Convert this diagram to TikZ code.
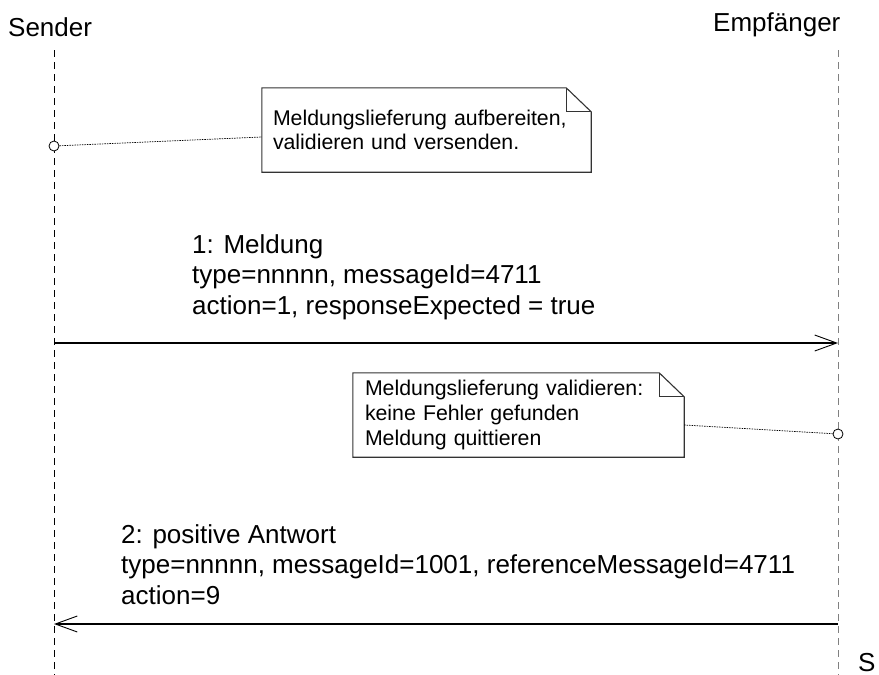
\documentclass[tikz,border=0pt]{standalone}
\usepackage{fontspec}
\setmainfont{Liberation Sans}
\usetikzlibrary{arrows.meta}

\begin{document}
\begin{tikzpicture}[x=1pt, y=-1pt]
        \tikzstyle{actor}=[inner sep=0pt, anchor=base west,
            font=\fontsize{26}{31}\selectfont]
        \tikzstyle{msg}=[inner sep=0pt, anchor=base west, align=left,
            font=\fontsize{26}{30.5}\selectfont]
        \tikzstyle{notebox}=[inner ysep=0pt, align=left,
            minimum height=84pt]
        \tikzstyle{noteline}=[draw=black!80, line width=1.1pt]
        \tikzstyle{life}=[dash pattern=on 7pt off 5pt, line width=0.8pt]
        \tikzstyle{anchorpt}=[draw, circle, fill=white,
            minimum size=10pt, inner sep=0pt, line width=0.8pt]
        \tikzstyle{link}=[dash pattern=on 1.5pt off 1pt, line width=0.7pt]
        \tikzstyle{call}=[line width=1.1pt,
            -{Straight Barb[length=22pt, width=16pt, line width=0.9pt]}]

        \useasboundingbox (0,0) rectangle (879,675);

        % lifelines
        \node[actor] (sender) at (8,36) {Sender};
        \node[actor] (receiver) at (713,31) {Empf\"anger};
        \coordinate (s0) at (54,50);
        \coordinate (s9) at (54,675);
        \coordinate (e0) at (838,50);
        \coordinate (e9) at (838,675);
        \draw[life, black] (s0) to (s9);
        \draw[life, black!50] (e0) to (e9);

        % first note
        \node[notebox, text width=307pt, inner xsep=11pt,
            font=\fontsize{21.3}{24}\selectfont] (note1) at (426.5,130)
            {Meldungslieferung aufbereiten,\\validieren und versenden.};
        \draw[noteline] (note1.north west) -- ([xshift=-25pt]note1.north east)
            -- ([yshift=-24pt]note1.north east) -- (note1.south east)
            -- (note1.south west) -- cycle;
        \draw[noteline] ([xshift=-25pt]note1.north east)
            |- ([yshift=-24pt]note1.north east);
        \node[anchorpt] (pin1) at (54,146) {};
        \draw[link] (pin1) to ([yshift=-7pt]note1.west);

        % message 1
        \node[msg] (msg1) at (192,314)
            {1: Meldung\\type=nnnnn, messageId=4711\\action=1, responseExpected = true};
        \coordinate (m1s) at (54,343);
        \coordinate (m1e) at (838,343);
        \draw[call] (m1s) to (m1e);

        % second note
        \node[notebox, text width=307pt, inner xsep=12pt,
            font=\fontsize{21.3}{25}\selectfont] (note2) at (518.5,415)
            {Meldungslieferung validieren:\\keine Fehler gefunden\\Meldung quittieren};
        \draw[noteline] (note2.north west) -- ([xshift=-25pt]note2.north east)
            -- ([yshift=-24pt]note2.north east) -- (note2.south east)
            -- (note2.south west) -- cycle;
        \draw[noteline] ([xshift=-25pt]note2.north east)
            |- ([yshift=-24pt]note2.north east);
        \node[anchorpt] (pin2) at (838,434) {};
        \draw[link] ([yshift=-10pt]note2.east) to (pin2);

        % message 2
        \node[msg] (msg2) at (121,604)
            {2: positive Antwort\\type=nnnnn, messageId=1001, referenceMessageId=4711\\action=9};
        \coordinate (m2s) at (838,624);
        \coordinate (m2e) at (54,624);
        \draw[call] (m2s) to (m2e);

        \node[actor] (cut) at (858,671) {S};

    \end{tikzpicture}
\end{document}
